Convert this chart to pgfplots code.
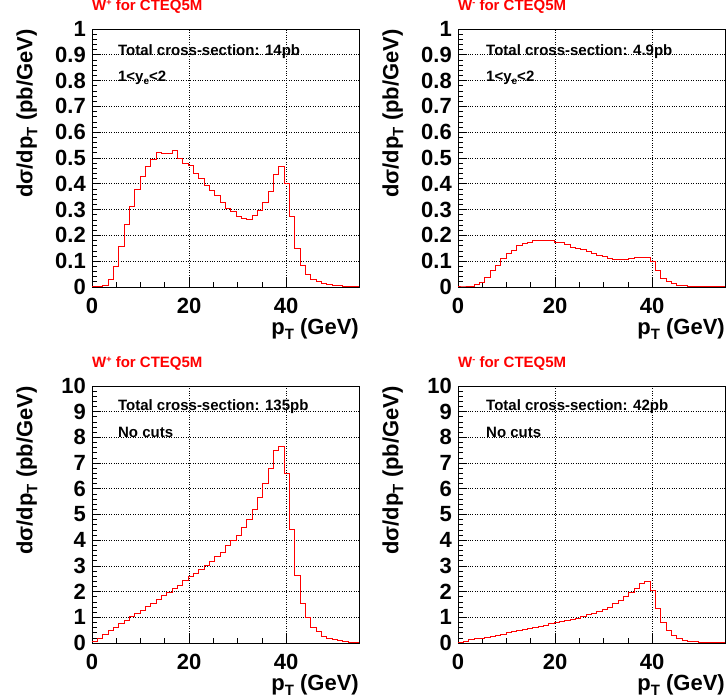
\documentclass[border=0pt]{standalone}
\usepackage{fontspec}
\setmainfont{Liberation Sans}
\usepackage{pgfplots}
\usepackage{pgfplotstable}
\pgfplotsset{compat=1.18}

\newcommand\bigf{\fontsize{22}{22}\selectfont\bfseries}
\newcommand\smf{\fontsize{15}{15}\selectfont\bfseries}
\newcommand\subT{\raisebox{-5pt}{\fontsize{15}{15}\selectfont\bfseries T}}
\newcommand\subTs{\raisebox{-3pt}{\fontsize{10}{10}\selectfont\bfseries e}}

% x = lower bin edge (bin width 1.1 GeV), last row closes the histogram
\pgfplotstableread{
x y
0 0
1.1 0.002
2.2 0.004
3.3 0.030
4.4 0.081
5.5 0.157
6.6 0.241
7.7 0.313
8.8 0.376
9.9 0.428
11 0.467
12.1 0.495
13.2 0.523
14.3 0.517
15.4 0.517
16.5 0.528
17.6 0.498
18.7 0.480
19.8 0.470
20.9 0.440
22 0.420
23.1 0.392
24.2 0.374
25.3 0.356
26.4 0.327
27.5 0.304
28.6 0.291
29.7 0.274
30.8 0.265
31.9 0.263
33 0.279
34.1 0.295
35.2 0.326
36.3 0.370
37.4 0.435
38.5 0.467
39.6 0.402
40.7 0.272
41.8 0.150
42.9 0.083
44 0.048
45.1 0.030
46.2 0.021
47.3 0.012
48.4 0.009
49.5 0.006
50.6 0.004
51.7 0.003
52.8 0.002
53.9 0.001
55 0.001
}\wpcut

\pgfplotstableread{
x y
0 0
1.1 0
2.2 0.003
3.3 0.008
4.4 0.019
5.5 0.038
6.6 0.062
7.7 0.084
8.8 0.109
9.9 0.131
11 0.142
12.1 0.159
13.2 0.167
14.3 0.173
15.4 0.180
16.5 0.182
17.6 0.181
18.7 0.181
19.8 0.173
20.9 0.171
22 0.164
23.1 0.154
24.2 0.149
25.3 0.144
26.4 0.137
27.5 0.129
28.6 0.123
29.7 0.118
30.8 0.110
31.9 0.107
33 0.105
34.1 0.105
35.2 0.109
36.3 0.114
37.4 0.115
38.5 0.115
39.6 0.097
40.7 0.063
41.8 0.034
42.9 0.022
44 0.012
45.1 0.006
46.2 0.004
47.3 0.003
48.4 0.002
49.5 0.001
50.6 0.001
51.7 0.001
52.8 0.001
53.9 0.001
55 0.001
}\wmcut

\pgfplotstableread{
x y
0 0.07
1.1 0.17
2.2 0.34
3.3 0.48
4.4 0.62
5.5 0.76
6.6 0.89
7.7 1.02
8.8 1.15
9.9 1.28
11 1.41
12.1 1.54
13.2 1.68
14.3 1.85
15.4 1.97
16.5 2.12
17.6 2.24
18.7 2.43
19.8 2.57
20.9 2.72
22 2.86
23.1 3.01
24.2 3.17
25.3 3.36
26.4 3.54
27.5 3.78
28.6 3.97
29.7 4.20
30.8 4.49
31.9 4.81
33 5.21
34.1 5.67
35.2 6.20
36.3 6.80
37.4 7.49
38.5 7.66
39.6 6.60
40.7 4.42
41.8 2.61
42.9 1.55
44 1.00
45.1 0.62
46.2 0.43
47.3 0.26
48.4 0.17
49.5 0.12
50.6 0.08
51.7 0.05
52.8 0.03
53.9 0.02
55 0.02
}\wpall

\pgfplotstableread{
x y
0 0.02
1.1 0.06
2.2 0.13
3.3 0.16
4.4 0.18
5.5 0.22
6.6 0.26
7.7 0.30
8.8 0.35
9.9 0.39
11 0.43
12.1 0.47
13.2 0.52
14.3 0.56
15.4 0.60
16.5 0.65
17.6 0.69
18.7 0.74
19.8 0.79
20.9 0.84
22 0.88
23.1 0.92
24.2 0.97
25.3 1.03
26.4 1.09
27.5 1.16
28.6 1.23
29.7 1.30
30.8 1.40
31.9 1.52
33 1.66
34.1 1.79
35.2 1.95
36.3 2.13
37.4 2.31
38.5 2.39
39.6 2.05
40.7 1.36
41.8 0.81
42.9 0.47
44 0.30
45.1 0.17
46.2 0.10
47.3 0.06
48.4 0.04
49.5 0.03
50.6 0.02
51.7 0.01
52.8 0.01
53.9 0.005
55 0.005
}\wmall

\pgfplotsset{
  rootaxis/.style={
    scale only axis, width=267pt, height=258pt,
    xmin=0, xmax=55, ymin=0,
    xtick={0,20,40}, minor x tick num=3,
    minor y tick num=4,
    tick align=inside, xtick pos=left, ytick pos=left,
    major tick length=9pt, minor tick length=5pt,
    grid=major,
    major grid style={black, dotted, line width=0.7pt},
    axis line style={black, line width=0.9pt},
    tick style={black, line width=0.7pt},
    tick label style={font=\bigf},
    /pgf/number format/assume math mode=true,
    xticklabel style={anchor=base, yshift=-27pt, inner sep=0pt},
    yticklabel style={anchor=east, inner sep=0pt, xshift=-6pt},
    xlabel={p\subT\ (GeV)},
    xlabel style={at={(rel axis cs:1,-0.186)}, anchor=base east, inner sep=0pt, font=\bigf},
    ylabel={dσ/dp\subT\ (pb/GeV)},
    ylabel style={at={(rel axis cs:-0.244,1)}, anchor=east, inner sep=0pt, font=\bigf},
    title style={at={(rel axis cs:0,1.048)}, anchor=base west, inner sep=0pt, font=\smf, text=red},
    anchor=south west,
  },
  hist/.style={const plot mark left, red, line width=1pt, mark=none},
}

\begin{document}
\begin{tikzpicture}[x=1pt,y=1pt]
\useasboundingbox (0,0) rectangle (727,700);

\begin{axis}[rootaxis, at={(92pt,413pt)}, ymax=1,
  ytick={0,0.1,0.2,0.3,0.4,0.5,0.6,0.7,0.8,0.9,1},
  yticklabels={0,0.1,0.2,0.3,0.4,0.5,0.6,0.7,0.8,0.9,1},
  title={W\raisebox{5pt}{\fontsize{9}{9}\selectfont +} for CTEQ5M}]
\addplot[hist] table[x=x,y=y] {\wpcut};
\node[anchor=base west, font=\smf, inner sep=0pt] at (rel axis cs:0.097,0.8965) {Total cross-section: 14pb};
\node[anchor=base west, font=\smf, inner sep=0pt] at (rel axis cs:0.097,0.798) {1\textless y\subTs\textless 2};
\end{axis}

\begin{axis}[rootaxis, at={(458pt,413pt)}, ymax=1,
  ytick={0,0.1,0.2,0.3,0.4,0.5,0.6,0.7,0.8,0.9,1},
  yticklabels={0,0.1,0.2,0.3,0.4,0.5,0.6,0.7,0.8,0.9,1},
  title={W\raisebox{5pt}{\fontsize{9}{9}\selectfont -} for CTEQ5M}]
\addplot[hist] table[x=x,y=y] {\wmcut};
\node[anchor=base west, font=\smf, inner sep=0pt] at (rel axis cs:0.105,0.8965) {Total cross-section: 4.9pb};
\node[anchor=base west, font=\smf, inner sep=0pt] at (rel axis cs:0.105,0.798) {1\textless y\subTs\textless 2};
\end{axis}

\begin{axis}[rootaxis, at={(92pt,57pt)}, height=257pt, ymax=10,
  ytick={0,1,2,3,4,5,6,7,8,9,10},
  title={W\raisebox{5pt}{\fontsize{9}{9}\selectfont +} for CTEQ5M}]
\addplot[hist] table[x=x,y=y] {\wpall};
\node[anchor=base west, font=\smf, inner sep=0pt] at (rel axis cs:0.097,0.903) {Total cross-section: 135pb};
\node[anchor=base west, font=\smf, inner sep=0pt] at (rel axis cs:0.097,0.80) {No cuts};
\end{axis}

\begin{axis}[rootaxis, at={(458pt,57pt)}, height=257pt, ymax=10,
  ytick={0,1,2,3,4,5,6,7,8,9,10},
  title={W\raisebox{5pt}{\fontsize{9}{9}\selectfont -} for CTEQ5M}]
\addplot[hist] table[x=x,y=y] {\wmall};
\node[anchor=base west, font=\smf, inner sep=0pt] at (rel axis cs:0.105,0.903) {Total cross-section: 42pb};
\node[anchor=base west, font=\smf, inner sep=0pt] at (rel axis cs:0.105,0.80) {No cuts};
\end{axis}
\end{tikzpicture}
\end{document}
